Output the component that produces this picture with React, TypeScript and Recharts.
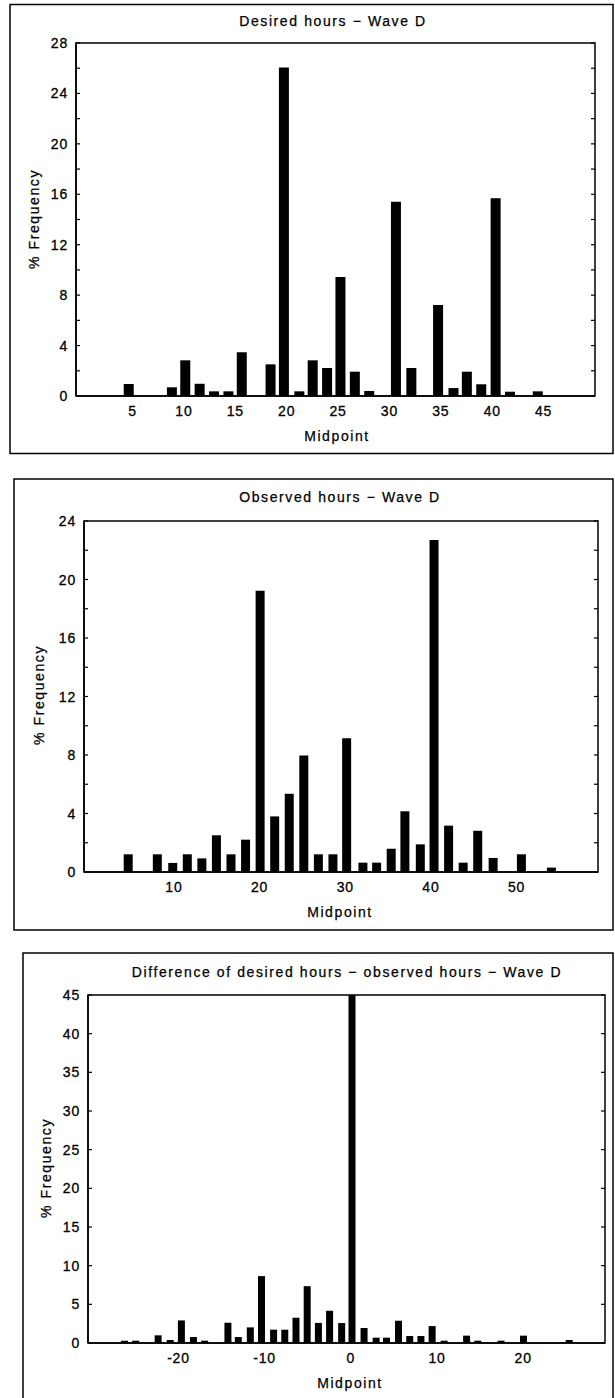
import React from 'react';
import { BarChart, Bar, XAxis, YAxis, ReferenceArea } from 'recharts';

// ---- Data: Desired hours - Wave D ----
const desiredMid = [4.6, 8.8, 10.1, 11.5, 12.9, 14.3, 15.6, 18.4, 19.7, 21.2, 22.5, 23.9, 25.2, 26.6, 28.0, 30.6, 32.1, 34.7, 36.2, 37.5, 38.9, 40.3, 41.7, 44.4];
const desiredPct = [0.95, 0.69, 2.83, 0.97, 0.37, 0.37, 3.47, 2.51, 26.05, 0.37, 2.83, 2.22, 9.43, 1.93, 0.4, 15.4, 2.22, 7.21, 0.63, 1.93, 0.93, 15.69, 0.34, 0.37];
const desiredXTicks = [5, 10, 15, 20, 25, 30, 35, 40, 45];
const desiredYTicks = [0, 2, 4, 6, 8, 10, 12, 14, 16, 18, 20, 22, 24, 26, 28];

// ---- Data: Observed hours - Wave D ----
const observedMid = [4.7, 8.1, 9.9, 11.6, 13.3, 15.0, 16.7, 18.4, 20.1, 21.8, 23.5, 25.2, 26.9, 28.6, 30.2, 32.1, 33.7, 35.4, 37.0, 38.8, 40.4, 42.1, 43.8, 45.5, 47.3, 50.6, 54.1];
const observedPct = [1.21, 1.21, 0.62, 1.21, 0.93, 2.51, 1.21, 2.21, 19.23, 3.8, 5.35, 7.96, 1.21, 1.21, 9.15, 0.64, 0.64, 1.59, 4.15, 1.89, 22.7, 3.17, 0.64, 2.82, 0.96, 1.21, 0.3];
const observedXTicks = [10, 20, 30, 40, 50];
const observedYTicks = [0, 2, 4, 6, 8, 10, 12, 14, 16, 18, 20, 22, 24];

// ---- Data: Difference desired - observed ----
const diffMid = [-26.3, -25.0, -22.4, -21.0, -19.7, -18.3, -17.0, -14.3, -13.1, -11.7, -10.4, -9.0, -7.7, -6.4, -5.1, -3.8, -2.5, -1.1, 0.1, 1.5, 2.9, 4.1, 5.5, 6.8, 8.1, 9.4, 10.8, 13.4, 14.7, 17.4, 20.0, 25.3];
const diffPct = [0.3, 0.3, 0.99, 0.39, 2.92, 0.77, 0.3, 2.62, 0.77, 2.02, 8.65, 1.72, 1.72, 3.27, 7.35, 2.6, 4.17, 2.58, 45, 1.94, 0.69, 0.69, 2.88, 0.9, 0.9, 2.19, 0.3, 0.95, 0.3, 0.3, 0.95, 0.39];
const diffXTicks = [-20, -10, 0, 10, 20];
const diffYTicks = [0, 5, 10, 15, 20, 25, 30, 35, 40, 45];

const FONT = "'Liberation Sans', Arial, sans-serif";

const zip = (mids: number[], pcts: number[]) => mids.map((m, i) => ({ mid: m, pct: pcts[i] }));

type PanelProps = {
  top: number;
  height: number;
  plotLeft: number;
  plotRight: number;
  plotTop: number;
  plotBottom: number;
  xDomain: [number, number];
  yDomain: [number, number];
  xTicks: number[];
  yTicks: number[];
  major: number;
  barSize: number;
  data: { mid: number; pct: number }[];
};

const tickTextStyle = { fontFamily: FONT, fontSize: 14, letterSpacing: 0.8 } as React.CSSProperties;

function Panel(p: PanelProps) {
  const W = 615;
  const xTick = (props: any) => {
    const cx = props.payload.coordinate;
    return (
      <text x={cx} y={p.plotBottom + 15} textAnchor="middle" dominantBaseline="central"
        style={tickTextStyle} fill="#000" stroke="#000" strokeWidth={0.3}>
        {String(props.payload.value)}
      </text>
    );
  };
  const yTick = (props: any) => {
    const v = props.payload.value;
    const cy = props.payload.coordinate;
    const isMajor = Math.abs(v / p.major - Math.round(v / p.major)) < 1e-6;
    return (
      <g>
        {isMajor && (
          <text x={p.plotLeft - 8} y={cy} textAnchor="end" dominantBaseline="central"
            style={tickTextStyle} fill="#000" stroke="#000" strokeWidth={0.3}>
            {String(v)}
          </text>
        )}
        <line x1={p.plotLeft} x2={p.plotLeft + 4} y1={cy} y2={cy} stroke="#000" strokeWidth={1.2} />
        <line x1={p.plotRight} x2={p.plotRight - 4} y1={cy} y2={cy} stroke="#000" strokeWidth={1.2} />
      </g>
    );
  };
  return (
    <div style={{ position: 'absolute', left: 0, top: p.top, width: W, height: p.height }}>
      <BarChart
        width={W}
        height={p.height}
        data={p.data}
        margin={{ top: p.plotTop, right: W - p.plotRight, bottom: p.height - p.plotBottom - 30, left: 0 }}
      >
        <XAxis
          type="number"
          dataKey="mid"
          domain={p.xDomain}
          ticks={p.xTicks}
          interval={0}
          allowDataOverflow
          height={30}
          axisLine={{ stroke: '#000', strokeWidth: 1.5 }}
          tickLine={false}
          tick={xTick}
        />
        <YAxis
          type="number"
          domain={p.yDomain}
          ticks={p.yTicks}
          interval={0}
          allowDataOverflow
          width={p.plotLeft}
          axisLine={{ stroke: '#000', strokeWidth: 1.5 }}
          tickLine={false}
          tick={yTick}
        />
        <ReferenceArea
          x1={p.xDomain[0]}
          x2={p.xDomain[1]}
          y1={p.yDomain[0]}
          y2={p.yDomain[1]}
          fill="none"
          fillOpacity={0}
          stroke="#000"
          strokeWidth={1.5}
          ifOverflow="visible"
        />
        <Bar dataKey="pct" fill="#000" barSize={p.barSize} isAnimationActive={false} />
      </BarChart>
    </div>
  );
}

export default function App() {
  const textStyle = { fontFamily: FONT, fontSize: 14, letterSpacing: 1.6 } as React.CSSProperties;
  const tp = { fill: '#000', stroke: '#000', strokeWidth: 0.25 };
  return (
    <div style={{ position: 'absolute', left: 0, top: 0, width: 615, height: 1398, background: '#fff', overflow: 'hidden' }}>
      <Panel
        top={0} height={460}
        plotLeft={76} plotRight={595} plotTop={43} plotBottom={396}
        xDomain={[-0.5, 50]} yDomain={[0, 28]}
        xTicks={desiredXTicks} yTicks={desiredYTicks} major={4} barSize={10}
        data={zip(desiredMid, desiredPct)}
      />
      <Panel
        top={460} height={470}
        plotLeft={84} plotRight={598} plotTop={61} plotBottom={412}
        xDomain={[-0.5, 59.5]} yDomain={[0, 24]}
        xTicks={observedXTicks} yTicks={observedYTicks} major={4} barSize={9}
        data={zip(observedMid, observedPct)}
      />
      <Panel
        top={940} height={458}
        plotLeft={88} plotRight={605} plotTop={55} plotBottom={403}
        xDomain={[-30.5, 29.5]} yDomain={[0, 45]}
        xTicks={diffXTicks} yTicks={diffYTicks} major={5} barSize={7}
        data={zip(diffMid, diffPct)}
      />
      <svg width={615} height={1398} style={{ position: 'absolute', left: 0, top: 0, pointerEvents: 'none' }}>
        <rect x={10} y={4.5} width={603} height={449} fill="none" stroke="#000" strokeWidth={1.5} />
        <rect x={14} y={479} width={599} height={451} fill="none" stroke="#000" strokeWidth={1.5} />
        <rect x={23} y={953} width={590} height={470} fill="none" stroke="#000" strokeWidth={1.5} />

        <text x={333} y={21} textAnchor="middle" dominantBaseline="central" style={textStyle} {...tp}>Desired hours − Wave D</text>
        <text x={340} y={497} textAnchor="middle" dominantBaseline="central" style={textStyle} {...tp}>Observed hours − Wave D</text>
        <text x={347} y={972} textAnchor="middle" dominantBaseline="central" style={textStyle} {...tp}>Difference of desired hours − observed hours − Wave D</text>

        <text x={337} y={436} textAnchor="middle" dominantBaseline="central" style={textStyle} {...tp}>Midpoint</text>
        <text x={340} y={912} textAnchor="middle" dominantBaseline="central" style={textStyle} {...tp}>Midpoint</text>
        <text x={350} y={1383} textAnchor="middle" dominantBaseline="central" style={textStyle} {...tp}>Midpoint</text>

        <text transform="translate(34,219) rotate(-90)" textAnchor="middle" dominantBaseline="central" style={textStyle} {...tp}>% Frequency</text>
        <text transform="translate(39,695) rotate(-90)" textAnchor="middle" dominantBaseline="central" style={textStyle} {...tp}>% Frequency</text>
        <text transform="translate(46,1168) rotate(-90)" textAnchor="middle" dominantBaseline="central" style={textStyle} {...tp}>% Frequency</text>
      </svg>
    </div>
  );
}
